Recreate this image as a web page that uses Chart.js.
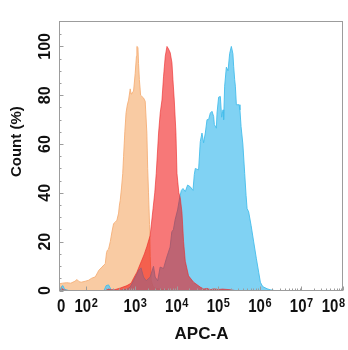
<!DOCTYPE html>
<html><head><meta charset="utf-8">
<script src="https://cdn.jsdelivr.net/npm/chart.js@4/dist/chart.umd.min.js"></script>
<style>html,body{margin:0;padding:0;background:#fff;}canvas{display:block}</style>
</head><body>
<canvas id="c" width="348" height="350"></canvas>
<script>
// x values are positions on the biexponential APC-A axis, in decades (3 = 10^3)
const blankT = [1.19,1.25,1.35,1.45,1.55,1.6,1.65,1.7,1.8,1.88,1.95,2.04,2.1,2.12,2.2,2.25,2.28,2.31,2.33,2.36,2.4,2.44,2.48,2.52,2.56,2.6,2.62,2.64,2.67,2.7,2.72,2.75,2.78,2.81,2.84,2.88,2.9,2.92,2.96,3.0,3.03,3.04,3.065,3.08,3.1,3.13,3.16,3.2,3.24,3.28,3.3,3.32,3.345,3.36,3.385,3.43,3.5,3.7,3.9];
const blankCount = [2.8,3.0,3.2,3.0,3.8,4.5,3.6,3.4,3.8,4.2,5.0,5.6,7.5,8.2,9.6,10.5,11,15.5,16.5,17,20,24,27.4,28,28.8,31.7,35,37,42,48,55,65,72.8,76,78,82.6,80.5,81,81.6,89,96,100,99.6,93,86.4,80,79.5,78.9,77.5,64.5,50,40,27,14,4,1.5,0.8,0.3,0];

const negT = [1.19,1.24,1.28,1.35,2.3,2.35,2.42,2.5,2.64,2.8,2.9,2.96,3.04,3.1,3.16,3.22,3.28,3.36,3.43,3.47,3.506,3.562,3.602,3.643,3.682,3.723,3.764,3.8,3.843,3.884,3.908,3.94,3.98,4.005,4.05,4.084,4.125,4.164,4.205,4.284,4.405,4.566,4.65,4.73,4.8,4.9,5.0,5.1,5.3,5.4];
const negCount = [0,0.8,0.3,0,0,0.6,0.3,0.3,1,2,3,5,7.5,10,12.5,15,18,22.6,33.7,40,48,64.5,72.8,78,87.8,96,100,99,97.4,93.3,86.4,78,64.6,48,40,38,32,20,12,6,3.4,1.4,0.6,0.9,0.3,0.7,0.4,0.6,0.3,0];

const posT = [1.19,1.22,1.26,1.3,1.4,2.25,2.3,2.36,2.42,2.6,2.8,2.88,2.96,3.02,3.08,3.14,3.2,3.265,3.36,3.44,3.48,3.54,3.6,3.68,3.76,3.84,3.88,3.92,3.96,4.02,4.07,4.11,4.15,4.205,4.26,4.325,4.39,4.422,4.446,4.525,4.566,4.607,4.646,4.687,4.728,4.766,4.807,4.848,4.887,4.904,4.952,4.969,5.007,5.048,5.08,5.113,5.128,5.152,5.193,5.234,5.272,5.313,5.35,5.369,5.393,5.41,5.434,5.5,5.52,5.547,5.59,5.634,5.667,5.692,5.73,5.788,5.851,5.916,5.971,6.012,6.053,6.092,6.173,6.25,6.35];
const posCount = [0,1.5,2,0.5,0,0,2,2.3,0.3,0,0.5,1.4,4,6,8.2,9.3,5.5,4,5.5,9.9,5.5,4,9.6,9,13.7,17.8,24,25,29,33,38,41,41.8,40.5,43.2,42.5,41,47.5,50,49.4,61,64.5,60.5,64.5,70,70,72.7,73.4,71.3,68,66.5,72.7,79.2,79.5,71,74,70,83.7,91.5,90,97,100,97,91.8,86.4,83.7,76.1,76.1,74,67.2,60,48,39,33.6,32.2,26.7,19.9,13,7.5,3.4,2,1.4,0.7,0.3,0];

const xTickPos = [1.217, 1.82, 3, 4, 5, 6, 7, 8];
const xTickLabels = ['0', '10^2', '10^3', '10^4', '10^5', '10^6', '10^7', '10^8'];
const yTickValues = [0, 20, 40, 60, 80, 100];

const FONT = '"Liberation Sans", Arial, sans-serif';
const pts = (xs, ys) => xs.map((x, i) => ({x: x, y: ys[i]}));

const decor = {
  id: 'decor',
  afterDraw(chart) {
    const {ctx, chartArea: a, scales: {x, y}} = chart;
    ctx.save();
    ctx.strokeStyle = '#9c9c9c';
    ctx.lineWidth = 1;
    const L = Math.round(a.left) - 0.5, T = Math.round(a.top) - 0.5;
    const R = Math.round(a.right) - 0.5, B = Math.round(a.bottom) - 0.5;
    ctx.strokeRect(L, T, R - L, B - T);
    ctx.beginPath();
    for (let v = 0; v <= 105; v += 5) {
      const py = Math.round(y.getPixelForValue(v)) + 0.5;
      const len = v % 20 === 0 ? 4 : 2;
      ctx.moveTo(L, py); ctx.lineTo(L + len, py);
    }
    xTickPos.forEach(t => {
      const px = Math.round(x.getPixelForValue(t)) + 0.5;
      ctx.moveTo(px, B); ctx.lineTo(px, B - 4);
    });
    for (let n = 2; n < 8; n++) {
      for (let k = 2; k <= 9; k++) {
        const t = n + Math.log10(k);
        if (n === 2 && t < 2.2) continue;
        const px = Math.round(x.getPixelForValue(t)) + 0.5;
        ctx.moveTo(px, B); ctx.lineTo(px, B - 2);
      }
    }
    ctx.stroke();

    ctx.fillStyle = '#111';
    ctx.font = 'bold 16px ' + FONT;
    ctx.textAlign = 'center';
    ctx.textBaseline = 'middle';
    yTickValues.forEach(v => {
      const py = y.getPixelForValue(v);
      ctx.save();
      ctx.translate(46, py);
      ctx.rotate(-Math.PI / 2);
      ctx.fillText(String(v), 0, 0);
      ctx.restore();
    });
    const baseFont = 'bold 15px ' + FONT;
    const expFont = 'bold 11px ' + FONT;
    const baseY = 311.5, expY = 306.5, stretch = 1.2;
    ctx.textAlign = 'left';
    ctx.textBaseline = 'alphabetic';
    xTickLabels.forEach((lab, i) => {
      const cx = x.getPixelForValue(xTickPos[i]);
      const parts = lab.split('^');
      ctx.font = baseFont;
      const wb = ctx.measureText(parts[0]).width;
      let we = 0;
      if (parts[1]) { ctx.font = expFont; we = ctx.measureText(parts[1]).width + 0.5; }
      let sx = cx - (wb + we) / 2;
      if (sx + wb + we > 345) sx = 345 - wb - we;
      ctx.save();
      ctx.font = baseFont;
      ctx.translate(sx, baseY); ctx.scale(1, stretch);
      ctx.fillText(parts[0], 0, 0);
      ctx.restore();
      if (parts[1]) {
        ctx.save();
        ctx.font = expFont;
        ctx.translate(sx + wb + 0.5, expY); ctx.scale(1, stretch);
        ctx.fillText(parts[1], 0, 0);
        ctx.restore();
      }
    });
    ctx.restore();
  }
};

new Chart(document.getElementById('c'), {
  type: 'line',
  data: {
    datasets: [
      { label: 'Negative', data: pts(negT, negCount), fill: 'origin',
        backgroundColor: 'rgba(240,10,10,0.55)', borderColor: 'rgba(235,40,40,0.6)', borderWidth: 1 },
      { label: 'Positive', data: pts(posT, posCount), fill: 'origin',
        backgroundColor: 'rgba(100,200,240,0.82)', borderColor: 'rgba(70,190,235,0.9)', borderWidth: 1 },
      { label: 'Blank', data: pts(blankT, blankCount), fill: 'origin',
        backgroundColor: 'rgba(247,190,140,0.8)', borderColor: 'rgba(245,175,120,0.9)', borderWidth: 1 }
    ]
  },
  options: {
    responsive: false,
    devicePixelRatio: 1,
    animation: false,
    elements: { point: { radius: 0 }, line: { tension: 0 } },
    layout: { padding: { top: 22, right: 5, left: 0, bottom: 0 } },
    plugins: { legend: { display: false }, tooltip: { enabled: false } },
    scales: {
      x: {
        type: 'linear', min: 1.19, max: 8,
        grid: { display: false }, border: { display: false },
        ticks: { display: false },
        title: { display: true, text: 'APC-A', color: '#111',
                 font: { family: FONT, size: 17, weight: 'bold' }, padding: { top: 0, bottom: 5 } },
        afterFit(s) { s.height = 59.5; }
      },
      y: {
        type: 'linear', min: 0, max: 110,
        grid: { display: false }, border: { display: false },
        ticks: { display: false, stepSize: 20 },
        title: { display: true, text: '       Count (%)', color: '#111',
                 font: { family: FONT, size: 15, weight: 'bold' }, padding: { top: 8, bottom: 0 } },
        afterFit(s) { s.width = 60; }
      }
    }
  },
  plugins: [decor]
});
</script>
</body></html>
